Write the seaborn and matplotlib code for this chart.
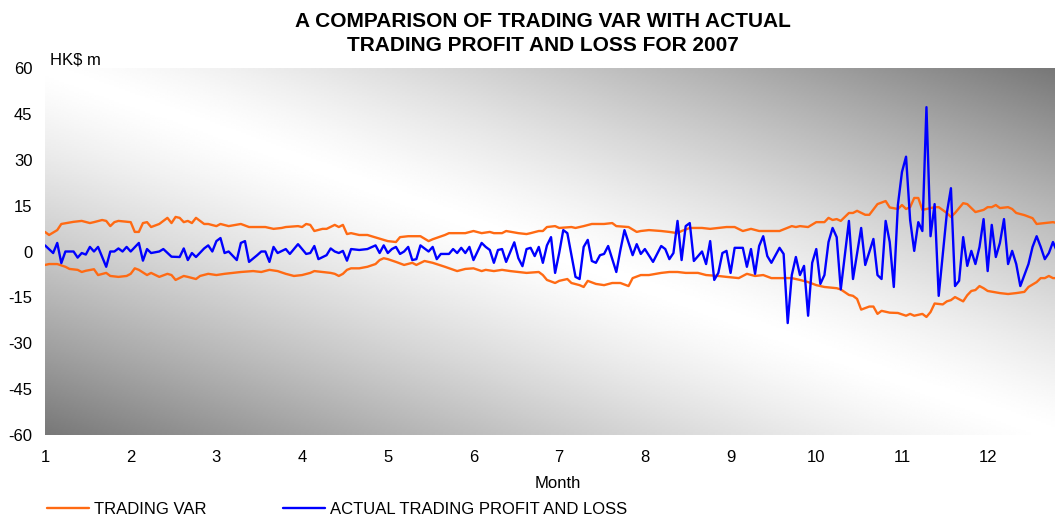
import numpy as np
import pandas as pd
import matplotlib
matplotlib.use("Agg")
import matplotlib.pyplot as plt
from matplotlib.lines import Line2D
import seaborn as sns

# ---------------- data (trading day index, HK$ m) ----------------
DAYS_PER_MONTH = 21

pnl_day = [0, 2, 3, 4, 5, 7, 8, 9, 10, 11, 12, 13, 15, 16, 17, 18, 19, 20, 21, 23,
           24, 25, 26, 28, 29, 31, 33, 34, 35, 36, 37, 39, 40, 41, 42, 43, 44, 45, 47, 48,
           49, 50, 52, 53, 54, 55, 56, 57, 59, 60, 62, 64, 65, 66, 67, 69, 70, 71, 72, 73,
           74, 75, 77, 79, 81, 82, 83, 84, 85, 86, 87, 88, 89, 90, 91, 92, 94, 95, 96, 97,
           99, 100, 101, 102, 103, 104, 105, 107, 108, 109, 110, 111, 112, 113, 115, 116, 117, 118, 119, 120,
           121, 122, 123, 124, 125, 126, 127, 128, 129, 130, 131, 132, 133, 134, 135, 136, 137, 138, 140, 141,
           142, 144, 145, 146, 147, 149, 151, 152, 153, 154, 155, 156, 157, 158, 159, 161, 162, 163, 164, 165,
           166, 167, 168, 169, 171, 172, 173, 174, 175, 176, 177, 178, 180, 181, 182, 183, 184, 185, 186, 187,
           188, 189, 190, 191, 192, 193, 194, 195, 197, 198, 200, 201, 203, 204, 205, 206, 207, 208, 209, 210,
           211, 212, 213, 214, 215, 216, 217, 218, 219, 221, 222, 223, 224, 225, 226, 227, 228, 229, 230, 231,
           232, 233, 234, 235, 236, 237, 238, 239, 241, 242, 243, 244, 245, 246, 247, 248]
pnl_value = [2, -0.5, 2.8, -3.8, 0, 0, -2, -0.5, -1, 1.5, 0, 1.5, -5, 0, 0, 1, 0, 1.5, 0, 2.8,
             -3, 0.8, -0.5, 0, 0.8, -1.7, -1.8, 1, -2.8, -0.5, -1.8, 1, 2, 0, 3.4, 4.4, -0.5, 0, -2.8, 2.8,
             3.4, -3.4, -1.2, 0, 0, -3.4, 1.5, -0.5, 0.8, -0.8, 2.4, -0.8, -0.5, 1.8, -2.5, -1.2, 1, 0, -0.5, 0.2,
             -3, 0.8, 0.5, 0.8, 2, -0.5, 2, -0.5, 0.8, 1.5, -0.8, 0, 1.5, -2.8, -2.5, 2, 0, 1.5, -2.5, -0.8,
             -0.8, 0.8, -0.5, 1.2, -0.5, 1.5, -2.8, 2.8, 1.5, 0.5, -3.7, 0.5, 0.8, -3.4, 3, -2.2, -4.8, 0.8, 1.2, -1.5,
             1.5, -3.7, 2, 4.7, -7, -0.5, 7, 6, -1.2, -8.3, -9, 1.5, 3.8, -3.1, -3.7, -1.2, -0.8, 1.8, -6.7, 0.5,
             7, -1.2, 2.4, -0.8, 0.8, -3.4, 1.8, 0.8, -2.5, -0.5, 10, -2.8, 8.3, 9.3, -3.1, 0, -4.1, 3.4, -9.3, -7,
             -0.5, 0.2, -7, 1.2, 1.2, -5, 0.8, -7.3, 1.8, 5, -1.5, -3.7, 1.2, -0.8, -23.4, -7.7, -1.8, -7.7, -4.7, -21,
             -3.7, 0.8, -10.6, -7.7, 3.1, 7.7, 4.7, -12.4, 10, -9, 7.7, -4.4, 4.1, -7.7, -9, 10, 3.1, -11.6, 15.2, 26,
             31, 10.3, 0.2, 9.6, 6.7, 47.2, 5, 15.5, -14.5, 12.6, 20.7, -11.3, -9.6, 4.7, -4.7, 0.2, -4.1, 1.5, 10.6, -6.4,
             8.7, -1.8, 2.8, 10.6, -4.1, 0.2, -4.1, -11.3, -4.1, 1.5, 5, 1.5, -2.5, -0.5, 3.1, 0]

var_up_day = [0, 1, 3, 4, 7, 9, 11, 12, 14, 15, 16, 17, 18, 21, 22, 23, 24, 25, 26, 28,
              30, 31, 32, 33, 34, 35, 36, 37, 39, 40, 42, 43, 45, 48, 50, 52, 54, 56, 58, 59,
              62, 63, 64, 65, 66, 68, 69, 71, 72, 73, 74, 75, 77, 79, 80, 82, 84, 86, 87, 89,
              92, 94, 95, 98, 99, 102, 103, 105, 107, 109, 110, 112, 113, 116, 118, 119, 121, 122, 123, 125,
              126, 129, 130, 132, 134, 137, 139, 140, 143, 145, 146, 148, 151, 153, 155, 156, 158, 161, 163, 165,
              167, 169, 171, 173, 175, 177, 180, 183, 184, 185, 187, 189, 191, 192, 193, 194, 195, 197, 198, 199,
              201, 202, 204, 206, 207, 209, 210, 211, 212, 213, 214, 215, 217, 218, 219, 221, 222, 223, 225, 226,
              227, 228, 230, 231, 232, 233, 234, 236, 237, 238, 240, 242, 243, 245, 247, 248]
var_up_value = [6.4, 5.4, 7, 9, 9.7, 10, 9.3, 9.6, 10.3, 10, 8.3, 9.6, 10, 9.6, 6.4, 6.4, 9.3, 9.6, 8, 9,
                11, 9.3, 11.3, 11, 9.6, 10, 9.3, 11, 9, 9, 8.3, 9, 8.3, 9, 8, 8, 8, 7.4, 7.7, 8,
                8.3, 8, 9, 8.7, 6.7, 7.4, 7.4, 8.7, 8, 8.7, 5.7, 6, 5.4, 5.4, 5, 4.2, 3.4, 3.1, 4.7, 5,
                5, 3.4, 4, 5.4, 6, 6, 6, 6.7, 6, 6.4, 6, 6, 6.7, 6, 5.7, 6, 6.7, 6.7, 8, 8.3,
                7.7, 8, 7.7, 8.3, 9, 9, 9.3, 8.3, 8, 6.4, 6.7, 7, 6.7, 6.4, 6, 6.7, 7.7, 7.7, 7.4, 7.7,
                8, 8, 6.7, 7.4, 6.7, 6.7, 6.7, 8.3, 8, 8.3, 8, 9.6, 9.6, 11, 10.3, 10.6, 10, 12.6, 12.6, 13.3,
                12, 12, 15.5, 16.5, 14.4, 13.9, 15.2, 13.9, 14.5, 17.5, 17.5, 13.6, 14.2, 14.5, 14.5, 12.6, 11.3, 12.6, 15.8, 15.5,
                14.2, 12.9, 13.6, 14.5, 14.5, 15.2, 14.2, 14.5, 13.9, 12.6, 11.9, 10.9, 9, 9.3, 9.6, 9.3]

var_lo_day = [0, 1, 3, 5, 6, 8, 9, 10, 12, 13, 15, 16, 18, 20, 21, 22, 23, 25, 26, 28,
              30, 31, 32, 34, 35, 37, 38, 40, 42, 44, 46, 48, 51, 53, 55, 57, 59, 61, 63, 65,
              66, 68, 70, 71, 72, 73, 74, 75, 77, 79, 81, 82, 83, 84, 86, 88, 90, 91, 93, 95,
              98, 101, 103, 105, 107, 108, 110, 112, 114, 116, 118, 121, 122, 123, 125, 126, 128, 129, 131, 132,
              133, 135, 137, 139, 141, 143, 144, 146, 148, 151, 153, 155, 157, 160, 162, 165, 167, 170, 172, 174,
              176, 178, 180, 183, 185, 187, 189, 191, 194, 195, 197, 198, 199, 200, 202, 203, 204, 205, 207, 209,
              211, 212, 213, 215, 216, 217, 218, 220, 221, 222, 223, 225, 226, 227, 228, 229, 230, 231, 234, 236,
              238, 240, 241, 243, 244, 245, 246, 247, 248]
var_lo_value = [-4.4, -4.1, -4.1, -5, -5.7, -6, -6.7, -6.3, -5.8, -7.7, -7, -8, -8.3, -8, -7.3, -5.5, -6, -7.7, -7, -8.3,
                -7.3, -7.7, -9.3, -8, -8.3, -9, -8, -7.3, -7.7, -7.3, -7, -6.7, -6.4, -6.7, -6, -6.4, -7.3, -8, -7.7, -7,
                -6.4, -6.7, -7, -7.3, -8, -7.3, -6, -5.5, -5.5, -5, -4.1, -2.8, -2.2, -2.5, -3.4, -4.4, -3.7, -4.4, -3.1, -3.7,
                -5, -6.4, -5.7, -5.5, -6.4, -6, -6.4, -6, -6.4, -6.7, -7, -6.7, -7.7, -9.3, -10.3, -9.6, -9, -10.3, -11, -11.6,
                -9.6, -10.6, -11, -10.3, -10.3, -11.3, -8.7, -7.7, -7.7, -7, -6.7, -6.7, -7, -7, -7.7, -8, -8.3, -8.7, -7.3, -8,
                -7.7, -8.7, -8.7, -8.7, -9.3, -10, -11, -11.6, -12, -12.4, -14.2, -14.5, -15.5, -19, -18, -18, -20.4, -19.4, -20, -20.1,
                -21, -20.4, -21, -20.4, -21.4, -19.8, -17, -17.3, -16.3, -15.9, -14.9, -16.3, -14.3, -12.9, -12.6, -11.3, -12, -12.9, -13.6, -13.9,
                -13.6, -13.2, -11.6, -10, -8.7, -8.7, -8, -8.7, -8.7]

month_ticks = list(range(1, 13))
value_ticks = [-60, -45, -30, -15, 0, 15, 30, 45, 60]
title_text = "A COMPARISON OF TRADING VAR WITH ACTUAL\nTRADING PROFIT AND LOSS FOR 2007"
unit_text = "HK$ m"
label_var = "TRADING VAR"
label_pnl = "ACTUAL TRADING PROFIT AND LOSS"

# ---------------- styling ----------------
sns.set_theme(style="white")
plt.rcParams["font.family"] = ["Liberation Sans", "DejaVu Sans"]
plt.rcParams["text.color"] = "black"
plt.rcParams["axes.labelcolor"] = "black"
FS = 12
ORANGE = "#FF6A13"
BLUE = "#0000FF"

pnl = pd.DataFrame({"month": [1 + d / DAYS_PER_MONTH for d in pnl_day], "value": pnl_value})
vup = pd.DataFrame({"month": [1 + d / DAYS_PER_MONTH for d in var_up_day], "value": var_up_value})
vlo = pd.DataFrame({"month": [1 + d / DAYS_PER_MONTH for d in var_lo_day], "value": var_lo_value})

fig = plt.figure(figsize=(10.55, 5.19), dpi=100)
ax = fig.add_axes([45 / 1055, 1 - 435 / 519, 1 - 45 / 1055, (435 - 68) / 519])

# gradient background (diagonal band, white along top-left -> bottom-right)
ny, nx = 200, 400
u = np.linspace(0, 1, nx)[None, :]
v = np.linspace(0, 1, ny)[:, None]
t = np.abs(u - v)
grey = 1 - (t ** 1.3) * (1 - 0.47)
ax.imshow(grey, cmap="gray", vmin=0, vmax=1, extent=[0, 1, 0, 1],
          transform=ax.transAxes, aspect="auto", zorder=0, interpolation="bilinear")

sns.lineplot(data=vup, x="month", y="value", color=ORANGE, lw=1.7, ax=ax, zorder=3, sort=False)
sns.lineplot(data=vlo, x="month", y="value", color=ORANGE, lw=1.7, ax=ax, zorder=3, sort=False)
sns.lineplot(data=pnl, x="month", y="value", color=BLUE, lw=1.7, ax=ax, zorder=4, sort=False)

ax.set_xlim(1, 1 + 247.5 / DAYS_PER_MONTH)
ax.set_ylim(-60, 60)
ax.set_xticks(month_ticks)
ax.set_xticklabels([str(m) for m in month_ticks])
ax.set_yticks(value_ticks)
ax.set_yticklabels([str(v) for v in value_ticks])
ax.tick_params(axis="both", length=0, labelsize=FS, colors="black")
ax.tick_params(axis="x", pad=11)
ax.tick_params(axis="y", pad=9)
for s in ax.spines.values():
    s.set_visible(False)
ax.grid(False)
ax.set_xlabel("Month", fontsize=FS, color="black")
ax.xaxis.set_label_coords((558 - 45) / 1010, -(483 - 435) / 367)
ax.xaxis.label.set_va("center")
ax.set_ylabel("")

fig.text(543 / 1055, 1 - 33.5 / 519, title_text, ha="center", va="center",
         fontsize=15, fontweight="bold", color="black", linespacing=1.3)
fig.text(50 / 1055, 1 - 60 / 519, unit_text, ha="left", va="center", fontsize=FS, color="black")

handles = [Line2D([0], [0], color=ORANGE, lw=1.7), Line2D([0], [0], color=BLUE, lw=1.7)]
leg = fig.legend(handles, [label_var, label_pnl], loc="center left",
                 bbox_to_anchor=(47 / 1055, 1 - 509 / 519), ncol=2, frameon=False,
                 fontsize=FS, handlelength=2.5, handletextpad=0.3, columnspacing=4.6,
                 borderpad=0, borderaxespad=0)
for txt in leg.get_texts():
    txt.set_color("black")

fig.savefig("out.png", dpi=100)
